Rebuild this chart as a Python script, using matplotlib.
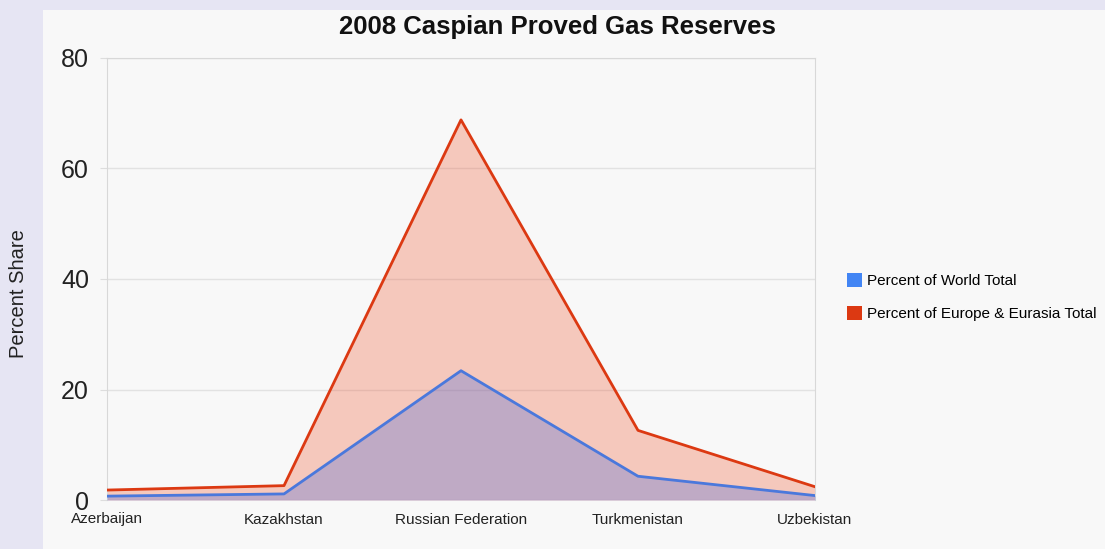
import matplotlib.pyplot as plt
from matplotlib.patches import Rectangle
from matplotlib.patches import Patch

countries = ["Azerbaijan", "Kazakhstan", "Russian Federation", "Turkmenistan", "Uzbekistan"]
world_pct = [0.7, 1.1, 23.4, 4.3, 0.8]
europe_eurasia_pct = [1.8, 2.6, 68.8, 12.6, 2.4]
y_ticks = [0, 20, 40, 60, 80]

RED = "#dc3912"
BLUE = "#3366cc"
BLUE_LINE = "#4a78dc"
PANEL = "#f8f8f8"

plt.rcParams["font.family"] = ["Liberation Sans", "DejaVu Sans"]

fig = plt.figure(figsize=(11.05, 5.49), dpi=100)
fig.patch.set_facecolor("#e6e5f3")

# off-white panel behind the chart
fig.patches.append(Rectangle((43 / 1105, 0), 1 - 43 / 1105, (549 - 10) / 549,
                             transform=fig.transFigure, facecolor=PANEL,
                             edgecolor="none", zorder=-10))

ax = fig.add_axes([107 / 1105, 49 / 549, 708 / 1105, 442 / 549])
ax.set_facecolor(PANEL)

x = list(range(len(countries)))
ax.fill_between(x, europe_eurasia_pct, color="#ef5a33", alpha=0.3, linewidth=0, zorder=2)
ax.fill_between(x, world_pct, color="#4466dd", alpha=0.3, linewidth=0, zorder=3)
ax.plot(x, europe_eurasia_pct, color=RED, linewidth=2, zorder=4)
ax.plot(x, world_pct, color=BLUE_LINE, linewidth=2, zorder=5)

ax.set_xlim(0, 4)
ax.set_ylim(0, 80)
ax.set_xticks(x)
ax.set_xticklabels(countries, fontsize=11, color="#222222")
ax.set_yticks(y_ticks)
ax.set_yticklabels([str(v) for v in y_ticks], fontsize=18, color="#222222")
ax.tick_params(axis="x", length=0, pad=9)
ax.tick_params(axis="y", length=5, color="#dddddd", pad=8)
ax.grid(axis="y", color="#e2e2e2", linewidth=1, zorder=1)
ax.set_axisbelow(True)

for side in ["left", "top", "right"]:
    ax.spines[side].set_color("#d8d8d8")
ax.spines["bottom"].set_visible(False)

fig.text(557 / 1105, 1 - 27 / 549, "2008 Caspian Proved Gas Reserves",
         ha="center", va="center", fontsize=18.5, fontweight="bold", color="#111111")
fig.text(19 / 1105, 1 - 294 / 549, "Percent Share", rotation=90,
         ha="center", va="center", fontsize=14.5, color="#222222")

handles = [Patch(facecolor="#4285f4", edgecolor="none", label="Percent of World Total"),
           Patch(facecolor=RED, edgecolor="none", label="Percent of Europe & Eurasia Total")]
fig.legend(handles=handles, loc="center left", bbox_to_anchor=(847 / 1105, 1 - 297 / 549),
           frameon=False, fontsize=11, handlelength=1.0, handleheight=1.05,
           handletextpad=0.3, labelspacing=1.2, borderaxespad=0, borderpad=0)

fig.savefig("out.png", dpi=100, facecolor=fig.get_facecolor())
